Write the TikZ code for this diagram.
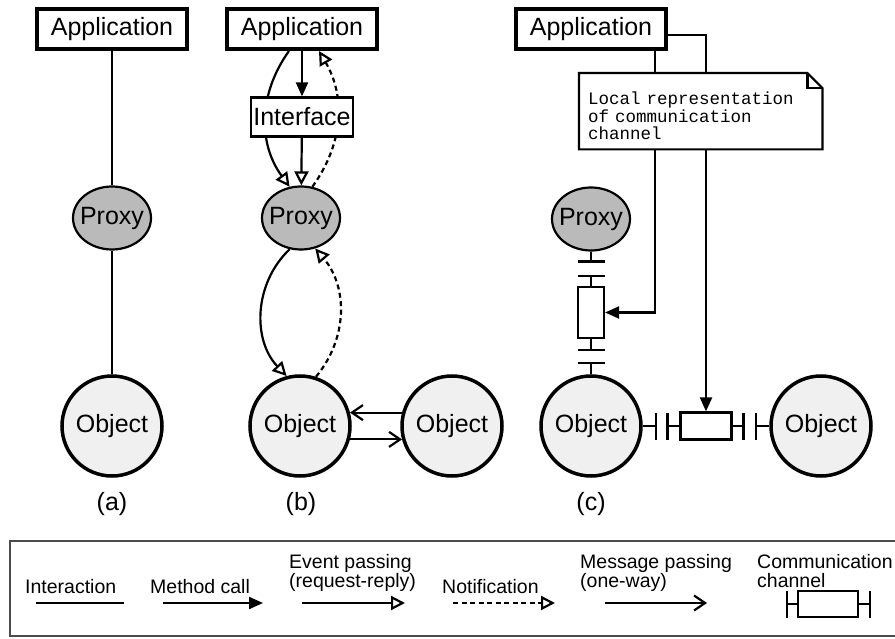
\documentclass[tikz,border=0pt]{standalone}
\usepackage{fontspec}
\setmainfont{Liberation Sans}
\setmonofont{Liberation Mono}
\usetikzlibrary{shapes.geometric, arrows.meta}
\newcommand{\diagfont}{\fontsize{25}{30}\selectfont}
\newcommand{\legfont}{\fontsize{19.5}{19}\selectfont}
\newcommand{\notefont}{\ttfamily\fontsize{17.5}{17.5}\selectfont}
\tikzset{
  appbox/.style={
    draw, line width=4pt, fill=white, inner sep=1pt,
    minimum width=150pt, minimum height=40pt, font=\diagfont
  },
  ifbox/.style={
    draw, line width=2.2pt, fill=white, inner sep=1pt,
    minimum width=102pt, minimum height=39pt, font=\diagfont
  },
  proxybox/.style={ellipse, draw, line width=2.2pt, fill=black!27, inner sep=0pt,
    minimum width=78pt, minimum height=63pt, font=\diagfont},
  objbox/.style={circle, draw, line width=3.5pt, fill=black!6, inner sep=0pt,
    minimum size=100pt, font=\diagfont},
  chanbox/.style={draw, line width=2.2pt, fill=white, inner sep=0pt},
  notebox/.style={
    fill=white, align=left, anchor=north west, font=\notefont, text height=22pt,
    text width=225pt, inner xsep=9pt, minimum width=243pt, minimum height=76pt
  },
  caption/.style={font=\diagfont},
  legtext/.style={font=\legfont, anchor=base west, align=left, inner sep=0pt},
  legframe/.style={line width=1.5pt, draw=black!70},
  link/.style={line width=2.2pt},
  call/.style={line width=2.2pt, -{Triangle[length=14pt, width=12pt]}},
  event/.style={line width=2.2pt, -{Triangle[open, fill=white, length=14pt, width=14pt]}},
  notify/.style={event, dash pattern=on 5pt off 3.5pt},
  message/.style={line width=2.2pt, -{Straight Barb[length=11pt, width=15pt]}},
  chanend/.style={line width=2.2pt, -{Bar[width=27pt]}},
}
\begin{document}
\begin{tikzpicture}[x=1pt, y=-1pt]
  \useasboundingbox (0,0) rectangle (895,639);

  % (a)
  \node[appbox] (appa) at (112,29) {Application};
  \node[proxybox] (proxya) at (112,218) {\makebox[0pt]{Proxy}};
  \node[objbox] (obja) at (112,426) {Object};
  \draw[link] (appa) -- (proxya);
  \draw[link] (proxya) -- (obja);
  \node[caption] (capa) at (112,504) {(a)};

  % (b)
  \node[appbox] (appb) at (302,29) {Application};
  \node[proxybox] (proxyb) at (301,218) {\makebox[0pt]{Proxy}};
  \node[objbox] (objb) at (300,426) {Object};
  \node[objbox] (objb2) at (452,426) {Object};
  \draw[event] ([xshift=-13pt]appb.south) to[bend right=36] (proxyb.110);
  \draw[notify] (proxyb.70) to[bend right=33] ([xshift=17pt]appb.south);
  \node[ifbox] (intf) at (302,117) {Interface};
  \draw[call] (appb) -- (intf);
  \draw[event] (intf) -- (proxyb);
  \draw[event] (proxyb.250) to[bend right=45] (objb.105);
  \draw[notify] (objb.72) to[bend right=40] (proxyb.-65);
  \draw[message] (objb2.165) -- (objb.15);
  \draw[message] (objb.-15) -- (objb2.195);
  \node[caption] (capb) at (301,504) {(b)};

  % (c)
  \node[appbox] (appc) at (591,29) {Application};
  \node[proxybox] (proxyc) at (591,219) {\makebox[0pt]{Proxy}};
  \node[objbox] (objc) at (591,426) {Object};
  \node[objbox] (objc2) at (821,426) {Object};
  \node[chanbox, minimum width=26pt, minimum height=51pt] (chanv) at (591,312.5) {};
  \node[chanbox, minimum width=51pt, minimum height=27pt] (chanh) at (706,426) {};
  \draw[chanend] (proxyc.south) -- ++(0,11);
  \draw[chanend] (chanv.north) -- ++(0,-11);
  \draw[chanend] (chanv.south) -- ++(0,12);
  \draw[chanend] (objc.north) -- ++(0,-12);
  \draw[chanend] (objc.east) -- ++(14,0);
  \draw[chanend] (chanh.west) -- ++(-13,0);
  \draw[chanend] (chanh.east) -- ++(12,0);
  \draw[chanend] (objc2.west) -- ++(-14,0);
  \draw[call] ([xshift=-13pt]appc.south east) |- (chanv.east);
  \draw[call] ([yshift=-6pt]appc.east) -| (chanh.north);
  \node[notebox] (note) at (579,73) {Local representation\\of communication\\channel};
  \draw[link] (note.south west) -- (note.north west) -- ([xshift=-15pt]note.north east)
    -- ([yshift=-15pt]note.north east) -- (note.south east) -- cycle;
  \draw[link] ([xshift=-15pt]note.north east) |- ([yshift=-15pt]note.north east);
  \node[caption] (capc) at (591,504) {(c)};

  % legend
  \draw[legframe] (895,541) -- (10,541) -- (10,636) -- (895,636);
  \node[legtext] (lint) at (25,593) {Interaction};
  \node[legtext] (lcall) at (150,593) {Method call};
  \node[legtext] (levent) at (289,587) {Event passing\\(request-reply)};
  \node[legtext] (lnotify) at (442,593) {Notification};
  \node[legtext] (lmsg) at (580,587) {Message passing\\(one-way)};
  \node[legtext] (lchan) at (757,587) {Communication\\channel};
  \coordinate (int1) at (36,603);   \coordinate (int2) at (124,603);
  \coordinate (call1) at (163,603); \coordinate (call2) at (263,603);
  \coordinate (ev1) at (302,603);   \coordinate (ev2) at (405,603);
  \coordinate (nt1) at (453,603);   \coordinate (nt2) at (555,603);
  \coordinate (ms1) at (605,603);   \coordinate (ms2) at (707,603);
  \draw[link] (int1) -- (int2);
  \draw[call] (call1) -- (call2);
  \draw[event] (ev1) -- (ev2);
  \draw[notify] (nt1) -- (nt2);
  \draw[message] (ms1) -- (ms2);
  \node[chanbox, minimum width=60pt, minimum height=26pt] (legchan) at (828,604) {};
  \draw[chanend] (legchan.west) -- ++(-11,0);
  \draw[chanend] (legchan.east) -- ++(12,0);
\end{tikzpicture}
\end{document}
